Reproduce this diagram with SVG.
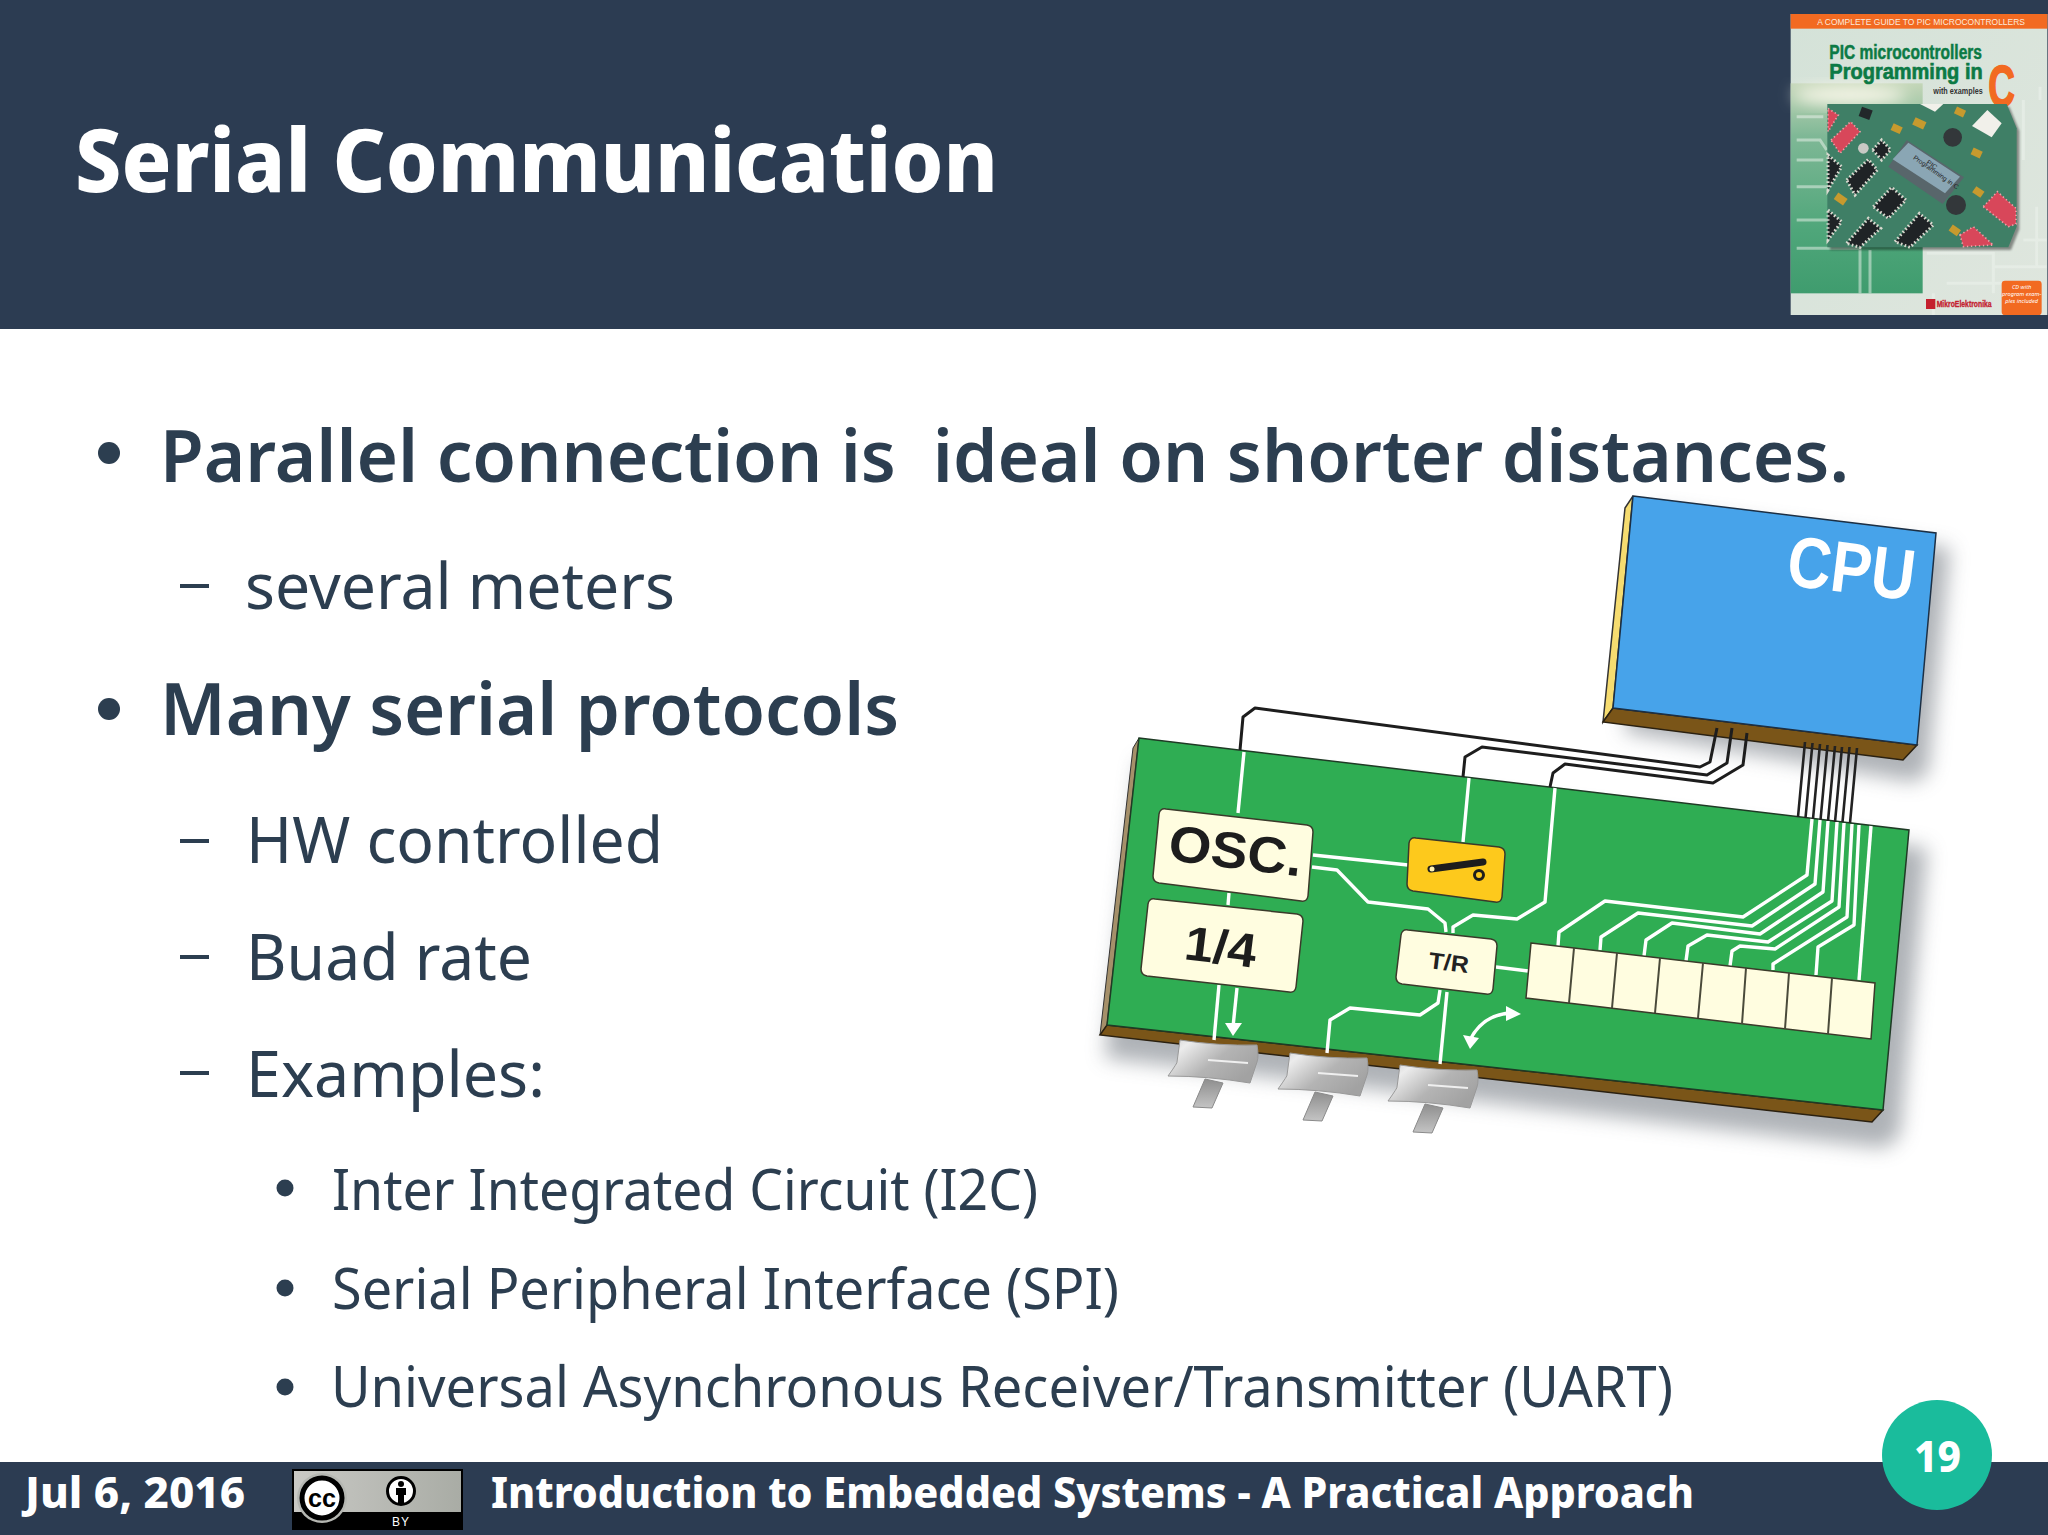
<svg xmlns="http://www.w3.org/2000/svg" xmlns:xlink="http://www.w3.org/1999/xlink" width="2048" height="1535" viewBox="0 0 2048 1535">
<style>
text{font-family:"Noto Sans","Open Sans",sans-serif}
.l1{font-size:73px;font-weight:600;fill:#2c3e50}
.l2{font-size:64px;font-weight:400;fill:#2c3e50}
.l3{font-size:56px;font-weight:400;fill:#2c3e50}
.ft{font-size:42px;font-weight:800;fill:#fff}
.ar{font-family:"Liberation Sans",Arial,sans-serif;font-weight:700}
.w{fill:none;stroke:#fff;stroke-width:3.4;stroke-linejoin:round}
.k{fill:none;stroke:#1d1d1d;stroke-width:3;stroke-linejoin:round}
.kw{fill:none;stroke:#222;stroke-width:2.6}
.cream{fill:#fffde0;stroke:#3a3a2a;stroke-width:1.5}
.dash{stroke:#2c3e50;stroke-width:4}
.b3{fill:#2c3e50}
.sh{fill:#5f6670;opacity:.5;filter:url(#blur)}
.chip{fill:#1f2326;stroke:#d9d9cf;stroke-width:9;stroke-dasharray:5 7}
.red{fill:#d8475a;stroke:#f0a0a8;stroke-width:5;stroke-dasharray:4 8}
.yel{fill:#c79a2e}
.ctr{fill:none;stroke:#eef3ee;stroke-width:9;opacity:.5}
</style>
<defs>
<filter id="blur" x="-20%" y="-20%" width="140%" height="140%"><feGaussianBlur stdDeviation="10"/></filter>
<filter id="blur2" x="-20%" y="-20%" width="140%" height="140%"><feGaussianBlur stdDeviation="3"/></filter>
<filter id="blur3" x="-40%" y="-40%" width="180%" height="180%"><feGaussianBlur stdDeviation="22"/></filter>
<linearGradient id="metal" x1="0" y1="0" x2="1" y2="0.6"><stop offset="0" stop-color="#d0d0d0"/><stop offset=".2" stop-color="#ececec"/><stop offset=".6" stop-color="#b4b4b4"/><stop offset="1" stop-color="#a2a2a2"/></linearGradient>
<linearGradient id="stem" x1="0" y1="0" x2="0" y2="1"><stop offset="0" stop-color="#8e8e8e"/><stop offset="1" stop-color="#c4c4c4"/></linearGradient>
<linearGradient id="ccg" x1="0" y1="0" x2="1" y2="0"><stop offset="0" stop-color="#c9c9c5"/><stop offset="1" stop-color="#a9aca5"/></linearGradient>
<linearGradient id="coverbg" x1="0" y1="0" x2="1" y2="1"><stop offset="0" stop-color="#d4e2d8"/><stop offset="1" stop-color="#dfe6de"/></linearGradient>
<linearGradient id="covergreen" x1="0" y1="0" x2="0" y2="1"><stop offset="0" stop-color="#c4d6b8"/><stop offset=".25" stop-color="#7fb896"/><stop offset=".7" stop-color="#4fa67a"/><stop offset="1" stop-color="#3f9c6e"/></linearGradient>
<g id="pin">
<path d="M1205,1079 L1193,1107 L1212,1108 L1223,1083 Z" fill="url(#stem)" stroke="#8a8a8a"/>
<path d="M1180,1040 Q1218,1046 1257,1045 Q1259,1056 1257,1062 L1250,1083 Q1208,1076 1168,1076 Q1178,1062 1177,1062 Z" fill="url(#metal)" stroke="#999"/>
<path d="M1208,1060 L1248,1063" stroke="#efefef" stroke-width="2"/>
</g>
</defs>

<rect width="2048" height="1535" fill="#fff"/>

<g id="header">
<rect width="2048" height="329" fill="#2c3c52"/>
<text x="75" y="192" font-size="88" font-weight="800" fill="#fff" textLength="923" lengthAdjust="spacingAndGlyphs">Serial Communication</text>
</g>

<g id="book-cover" transform="translate(1760,0) scale(.33333)">
<rect x="92" y="42" width="770" height="903" fill="url(#coverbg)"/>
<rect x="92" y="250" width="396" height="630" fill="url(#covergreen)"/>
<ellipse cx="270" cy="285" rx="170" ry="30" fill="#f4f4e6" filter="url(#blur3)"/>
<path class="ctr" d="M110,350H190M110,420H180L200,450M110,480H190M110,560H200M110,660H200M110,745H300V880M330,750V880M500,760H700V880M560,850H800M790,300V480M830,620V800M520,880V945M790,720H860M700,800H860M840,260V300"/>
<rect x="92" y="42" width="770" height="44" fill="#f26a21"/>
<text class="ar" x="172" y="76" font-size="27" style="font-weight:400" fill="#fbe9dc" textLength="623" lengthAdjust="spacingAndGlyphs">A COMPLETE GUIDE TO PIC MICROCONTROLLERS</text>
<text class="ar" x="208" y="177" font-size="58" fill="#0c7a45" stroke="#0c7a45" stroke-width="1.5" textLength="458" lengthAdjust="spacingAndGlyphs">PIC microcontrollers</text>
<text class="ar" x="208" y="236" font-size="66" fill="#0c7a45" stroke="#0c7a45" stroke-width="2" textLength="460" lengthAdjust="spacingAndGlyphs">Programming in</text>
<text class="ar" x="520" y="282" font-size="27" fill="#333" textLength="148" lengthAdjust="spacingAndGlyphs">with examples</text>
<text class="ar" x="685" y="318" font-size="172" fill="#f26a21" stroke="#f26a21" stroke-width="5" textLength="80" lengthAdjust="spacingAndGlyphs">C</text>
<path d="M202,312 H740 L770,385 V680 L745,742 H202 Z" fill="#000" opacity=".4" transform="translate(8,8)" filter="url(#blur2)"/>
<path d="M202,312 H740 L770,385 V680 L745,742 H202 Z" fill="#3f7f66"/>
<g>
<path d="M440,420 L612,532 L548,612 L385,500 Z" fill="#58666b"/>
<path d="M445,428 L600,530 L555,580 L398,478 Z" fill="#8aa6b4"/>
<text class="ar" transform="translate(458,476) rotate(35)" font-size="20" fill="#222" style="font-weight:400">Programming in C</text>
<text class="ar" transform="translate(498,490) rotate(35)" font-size="20" fill="#222" style="font-weight:400">PIC</text>
<path class="chip" d="M260,540 L325,478 L352,510 L285,585 Z"/>
<path class="chip" d="M340,620 L395,562 L438,600 L385,655 Z"/>
<path class="chip" d="M405,725 L478,640 L520,675 L450,742 Z"/>
<path class="chip" d="M260,730 L325,655 L362,685 L300,742 Z"/>
<path class="chip" d="M204,465 L245,500 L204,570 Z"/>
<path class="chip" d="M204,630 L245,665 L204,720 Z"/>
<path class="chip" d="M338,450 L365,420 L392,450 L365,480 Z"/>
<path class="red" d="M213,420 L272,365 L300,395 L240,460 Z"/>
<path class="red" d="M204,325 L235,345 L204,395 Z"/>
<path class="red" d="M670,620 L712,575 L768,625 L768,672 L745,680 Z"/>
<path class="red" d="M600,705 L640,680 L700,735 L610,740 Z"/>
<path d="M636,378 L682,330 L725,370 L695,412 Z" fill="#f1f0ea"/>
<path d="M480,312 H550 L525,335 Z" fill="#f1f0ea"/>
<circle cx="578" cy="412" r="28" fill="#33373a"/>
<circle cx="588" cy="615" r="30" fill="#33373a"/>
<circle cx="310" cy="445" r="16" fill="#c8c9c4"/>
<rect class="yel" x="395" y="375" width="30" height="22" transform="rotate(25 410 386)"/>
<rect class="yel" x="460" y="358" width="36" height="24" transform="rotate(25 478 370)"/>
<rect class="yel" x="585" y="325" width="30" height="22" transform="rotate(25 600 336)"/>
<rect class="yel" x="635" y="448" width="30" height="22" transform="rotate(25 650 459)"/>
<rect class="yel" x="225" y="585" width="34" height="24" transform="rotate(35 242 597)"/>
<rect class="yel" x="570" y="680" width="30" height="22" transform="rotate(35 585 690)"/>
<rect class="yel" x="640" y="565" width="30" height="22" transform="rotate(35 655 576)"/>
<rect x="300" y="325" width="34" height="30" fill="#22282a" transform="rotate(20 317 340)"/>
</g>
<rect x="725" y="842" width="120" height="103" rx="10" fill="#f26a21"/>
<g class="ar" font-size="17" fill="#fff" text-anchor="middle" font-style="italic" style="font-weight:400">
<text x="785" y="868">CD with</text><text x="785" y="888">program exam-</text><text x="785" y="908">ples included</text>
</g>
<rect x="498" y="897" width="28" height="30" fill="#c4202e"/>
<text class="ar" x="530" y="920" font-size="27" fill="#c4202e" stroke="#c4202e" textLength="165" lengthAdjust="spacingAndGlyphs">MikroElektronika</text>
</g>

<g id="body-text">
<circle cx="109" cy="453" r="11" class="b3"/>
<text class="l1" x="160" y="482" textLength="1689" lengthAdjust="spacingAndGlyphs" xml:space="preserve">Parallel connection is  ideal on shorter distances.</text>
<path class="dash" d="M180,586H209M180,841H209M180,957H209M180,1073H209"/>
<text class="l2" x="245" y="609" textLength="430" lengthAdjust="spacingAndGlyphs">several meters</text>
<circle cx="109" cy="709" r="11" class="b3"/>
<text class="l1" x="160" y="735" textLength="739" lengthAdjust="spacingAndGlyphs">Many serial protocols</text>
<text class="l2" x="246" y="863" textLength="417" lengthAdjust="spacingAndGlyphs">HW controlled</text>
<text class="l2" x="246" y="980" textLength="286" lengthAdjust="spacingAndGlyphs">Buad rate</text>
<text class="l2" x="246" y="1097" textLength="299" lengthAdjust="spacingAndGlyphs">Examples:</text>
<circle cx="285" cy="1188" r="8.5" class="b3"/>
<text class="l3" x="332" y="1210" textLength="706" lengthAdjust="spacingAndGlyphs">Inter Integrated Circuit (I2C)</text>
<circle cx="285" cy="1288" r="8.5" class="b3"/>
<text class="l3" x="332" y="1309" textLength="787" lengthAdjust="spacingAndGlyphs">Serial Peripheral Interface (SPI)</text>
<circle cx="285" cy="1387" r="8.5" class="b3"/>
<text class="l3" x="331" y="1407" textLength="1342" lengthAdjust="spacingAndGlyphs">Universal Asynchronous Receiver/Transmitter (UART)</text>
</g>

<g id="shadows">
<path class="sh" d="M1105,1058 L1140,760 L1927,848 L1900,1135 L1885,1148 Z"/>
<path class="sh" d="M1625,732 L1650,510 L1950,548 L1928,772 L1915,782 Z"/>
</g>

<g id="pcb">
<path d="M1133,748 L1139,738 L1107,1025 L1100,1035 Z" fill="#a5906a" stroke="#333" stroke-width="1"/>
<path d="M1100,1035 L1107,1025 L1883,1110 L1872,1122 Z" fill="#7a5518" stroke="#2a2010" stroke-width="1.5"/>
<path d="M1139,738 L1909,830 L1883,1110 L1107,1025 Z" fill="#2fad53" stroke="#1f3a25" stroke-width="1.5"/>
</g>

<g id="cpu">
<path d="M1625,508 L1633,496 L1613,708 L1603,722 Z" fill="#f6dc70" stroke="#333" stroke-width="1.5"/>
<path d="M1603,722 L1613,708 L1917,745 L1903,760 Z" fill="#7a5518" stroke="#2a2010" stroke-width="1.5"/>
<path d="M1633,496 L1936,533 L1917,745 L1613,708 Z" fill="#47a3ea" stroke="#1c2f44" stroke-width="1.5"/>
<text class="ar" transform="translate(1785,585) rotate(7)" font-size="72" fill="#fff" textLength="128" lengthAdjust="spacingAndGlyphs">CPU</text>
</g>

<g id="connectors">
<g class="black-wires">
<path class="k" d="M1240,750 L1243,717 L1255,708 L1700,767 L1710,762 L1717,728"/>
<path class="k" d="M1463,777 L1465,757 L1482,747 L1707,775 L1727,763 L1732,728"/>
<path class="k" d="M1550,787 L1553,773 L1565,764 L1713,783 L1743,765 L1747,733"/>
<path class="kw" d="M1805,742L1798,817M1812.500,743L1805.500,818M1820,744L1813,819M1827.500,745L1820.500,820M1835,746L1828,821M1842,747L1835,822M1849.500,747L1842.500,822M1857,748L1850,823"/>
</g>
<g class="white-traces">
<path class="w" d="M1558,946 L1559,932 L1605,901 L1743,917 L1807,875 L1812,819"/>
<path class="w" d="M1600,950 L1601,937 L1638,913 L1752,926 L1815,884 L1820,820"/>
<path class="w" d="M1644,956 L1646,940 L1672,923 L1760,934 L1823,892 L1828,821"/>
<path class="w" d="M1686,961 L1688,946 L1707,935 L1768,942 L1832,901 L1837,822"/>
<path class="w" d="M1730,966 L1732,951 L1740,946 L1775,949 L1839,907 L1844,823"/>
<path class="w" d="M1773,970 L1773,964 L1847,917 L1852,824"/>
<path class="w" d="M1816,975 L1818,947 L1854,925 L1859,825"/>
<path class="w" d="M1859,980 L1871,826"/>
<path class="w" d="M1244,752 L1238,813"/>
<path class="w" d="M1469,778 L1463,842"/>
<path class="w" d="M1555,788 L1545,902 L1517,919 L1473,915 L1453,927 L1453,933"/>
<path class="w" d="M1313,855 L1408,865"/>
<path class="w" d="M1312,867 L1337,870 L1368,902 L1428,909 L1445,923 L1446,932"/>
<path class="w" d="M1229,893 L1228,905"/>
<path class="w" d="M1219,985 L1214,1040"/>
<path class="w" d="M1237,988 L1233,1027"/>
<path d="M1225,1023 L1242,1023 L1233,1036 Z" fill="#fff"/>
<path class="w" d="M1440,990 L1438,1003 L1420,1015 L1350,1008 L1330,1020 L1327,1053"/>
<path class="w" d="M1447,992 L1440,1064"/>
<path class="w" d="M1496,967 L1528,971"/>
<path class="w" d="M1470,1040 Q1483,1014 1512,1013"/>
<path d="M1463,1035 L1479,1038 L1470,1049 Z" fill="#fff"/>
<path d="M1506,1006 L1521,1014 L1506,1021 Z" fill="#fff"/>
</g>
</g>

<g id="osc">
<path class="cream" d="M1166,809 L1307,825 Q1313,826 1313,832 L1308,896 Q1307,902 1301,901 L1159,883 Q1153,882 1153,876 L1159,814 Q1160,808 1166,809Z"/>
<text class="ar" transform="translate(1167,860) rotate(7)" font-size="51" fill="#1d1d1d" textLength="134" lengthAdjust="spacingAndGlyphs">OSC.</text>
</g>
<g id="div4">
<path class="cream" d="M1155,899 L1297,914 Q1303,915 1303,921 L1296,987 Q1295,993 1289,992 L1147,976 Q1141,975 1141,969 L1148,904 Q1149,898 1155,899Z"/>
<text class="ar" transform="translate(1183,959) rotate(7)" font-size="48" fill="#1d1d1d" textLength="72" lengthAdjust="spacingAndGlyphs">1/4</text>
</g>
<g id="switch">
<path d="M1416,838 L1499,847 Q1505,848 1505,854 L1502,897 Q1501,903 1495,902 L1413,891 Q1407,890 1407,884 L1409,843 Q1410,837 1416,838Z" fill="#fdc91c" stroke="#3a3a2a" stroke-width="1.5"/>
<path d="M1431,869 L1483,862" stroke="#1d1d1d" stroke-width="7" stroke-linecap="round"/>
<circle cx="1432" cy="869" r="2.500" fill="#fff2b0"/>
<circle cx="1479" cy="875" r="4.500" fill="#fdc91c" stroke="#1d1d1d" stroke-width="3"/>
</g>
<g id="tr">
<path class="cream" d="M1408,930 L1491,939 Q1497,940 1497,946 L1493,989 Q1492,995 1486,994 L1402,984 Q1396,983 1396,977 L1401,935 Q1402,929 1408,930Z"/>
<text class="ar" transform="translate(1428,968) rotate(7)" font-size="23" fill="#222" textLength="40" lengthAdjust="spacingAndGlyphs">T/R</text>
</g>
<g id="register">
<path class="cream" d="M1531,943 L1875,983 L1871,1039 L1526,998 Z"/>
<path d="M1574,948L1569,1003M1617,953L1612,1008M1660,958L1655,1013M1703,963L1698,1018M1746,968L1742,1024M1789,973L1785,1029M1832,978L1828,1034" stroke="#4a4a3a" stroke-width="2"/>
</g>
<g id="pin1"><use xlink:href="#pin" href="#pin"/></g>
<g id="pin2"><use xlink:href="#pin" href="#pin" x="110" y="13"/></g>
<g id="pin3"><use xlink:href="#pin" href="#pin" x="220" y="25"/></g>

<g id="footer">
<rect y="1462" width="2048" height="73" fill="#2c3c52"/>
<text class="ft" x="25" y="1508" textLength="220" lengthAdjust="spacingAndGlyphs">Jul 6, 2016</text>
<text class="ft" x="491" y="1508" textLength="1203" lengthAdjust="spacingAndGlyphs">Introduction to Embedded Systems - A Practical Approach</text>
</g>

<g id="cc-badge">
<rect x="292" y="1469" width="171" height="61" fill="#000"/>
<rect x="294" y="1471" width="167" height="41" fill="url(#ccg)"/>
<circle cx="322" cy="1498" r="25" fill="#b5b7b2"/>
<circle cx="322" cy="1498" r="20" fill="#fff" stroke="#000" stroke-width="5"/>
<text class="ar" x="322" y="1507" font-size="25" fill="#000" text-anchor="middle" textLength="28" lengthAdjust="spacingAndGlyphs">cc</text>
<circle cx="401" cy="1491" r="13.500" fill="#fff" stroke="#000" stroke-width="3"/>
<circle cx="401" cy="1484" r="3" fill="#000"/>
<path d="M396,1488 H406 V1495 H404 V1503 H398 V1495 H396 Z" fill="#000"/>
<text class="ar" x="401" y="1526" font-size="12" fill="#fff" text-anchor="middle" style="font-weight:400" letter-spacing="1">BY</text>
</g>

<g id="page-number">
<circle cx="1937" cy="1455" r="55" fill="#1abc9c"/>
<text class="ft" x="1914" y="1472" textLength="47" lengthAdjust="spacingAndGlyphs">19</text>
</g>
</svg>
